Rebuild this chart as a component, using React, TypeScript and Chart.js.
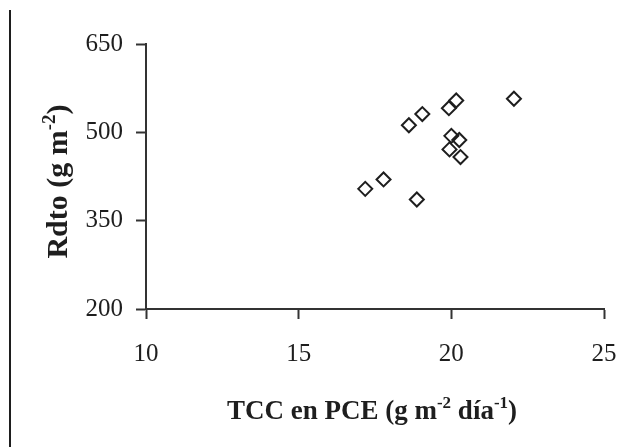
import React, { useEffect, useRef } from 'react';
import { Chart, registerables } from 'chart.js';

Chart.register(...registerables);

const tccValues = [17.18, 17.78, 18.87, 18.61, 19.05, 19.92, 20.16, 22.05, 20.0, 20.26, 19.94, 20.3];
const rdtoValues = [404, 420, 386, 512, 531, 541, 554, 557, 494, 487, 471, 458];
const xTicks = [10, 15, 20, 25];
const yTicks = [200, 350, 500, 650];
const xTitleParts: [string, boolean][] = [['TCC en PCE (g m', false], ['-2', true], [' día', false], ['-1', true], [')', false]];
const yTitleParts: [string, boolean][] = [['Rdto (g m', false], ['-2', true], [')', false]];

const INK = '#1e1e1e';
const FONT = '"Liberation Serif", "Times New Roman", serif';

function drawParts(ctx: CanvasRenderingContext2D, parts: [string, boolean][], size: number, cx: number, baseline: number) {
  const supSize = Math.round(size * 0.62);
  const widths = parts.map(([t, sup]) => {
    ctx.font = `bold ${sup ? supSize : size}px ${FONT}`;
    return ctx.measureText(t).width;
  });
  const total = widths.reduce((a, b) => a + b, 0);
  let x = cx - total / 2;
  ctx.textAlign = 'left';
  ctx.textBaseline = 'alphabetic';
  parts.forEach(([t, sup], i) => {
    ctx.font = `bold ${sup ? supSize : size}px ${FONT}`;
    ctx.fillText(t, x, sup ? baseline - size * 0.4 : baseline);
    x += widths[i];
  });
}

const titlesPlugin = {
  id: 'titlesPlugin',
  afterDraw(chart: any) {
    const { ctx, chartArea } = chart;
    ctx.save();
    ctx.fillStyle = INK;
    ctx.fillRect(9, 10, 2, 437);
    drawParts(ctx, xTitleParts, 27, (chartArea.left + chartArea.right) / 2 - 3, 419);
    ctx.translate(67, (chartArea.top + chartArea.bottom) / 2 + 5);
    ctx.rotate(-Math.PI / 2);
    drawParts(ctx, yTitleParts, 30, 0, 0);
    ctx.restore();
  },
};

export default function App() {
  const ref = useRef<HTMLCanvasElement | null>(null);
  useEffect(() => {
    if (!ref.current) return;
    const points = tccValues.map((x, i) => ({ x, y: rdtoValues[i] }));
    const chart = new Chart(ref.current, {
      type: 'scatter',
      data: {
        datasets: [
          {
            data: points,
            pointStyle: 'rectRot',
            pointRadius: 7,
            pointBorderWidth: 2,
            pointBorderColor: INK,
            pointBackgroundColor: 'rgba(0,0,0,0)',
            showLine: false,
          },
        ],
      },
      options: {
        animation: false,
        responsive: false,
        events: [],
        layout: { padding: { left: 0, top: 44, right: 24, bottom: 0 } },
        plugins: { legend: { display: false }, tooltip: { enabled: false }, title: { display: false } },
        scales: {
          x: {
            type: 'linear',
            min: 10,
            max: 25,
            afterBuildTicks: (axis: any) => {
              axis.ticks = xTicks.map((v) => ({ value: v }));
            },
            afterFit: (axis: any) => {
              axis.height = 138;
              axis.paddingLeft = 0;
              axis.paddingRight = 0;
            },
            ticks: { color: INK, font: { family: FONT, size: 25 }, padding: 20, maxRotation: 0 },
            grid: { drawOnChartArea: false, drawTicks: true, tickLength: 10, tickColor: '#333', tickWidth: 2 },
            border: { display: true, color: '#333', width: 2 },
          },
          y: {
            type: 'linear',
            min: 200,
            max: 650,
            afterBuildTicks: (axis: any) => {
              axis.ticks = yTicks.map((v) => ({ value: v }));
            },
            afterFit: (axis: any) => {
              axis.width = 146;
              axis.paddingTop = 0;
              axis.paddingBottom = 0;
            },
            ticks: { color: INK, font: { family: FONT, size: 25 }, padding: 13 },
            grid: { drawOnChartArea: false, drawTicks: true, tickLength: 10, tickColor: '#333', tickWidth: 2 },
            border: { display: true, color: '#333', width: 2 },
          },
        },
      },
      plugins: [titlesPlugin],
    });
    return () => chart.destroy();
  }, []);
  return (
    <div style={{ position: 'absolute', left: 0, top: 0, width: 628, height: 447, background: '#fff' }}>
      <canvas ref={ref} width={628} height={447} style={{ display: 'block', width: 628, height: 447 }} />
    </div>
  );
}
